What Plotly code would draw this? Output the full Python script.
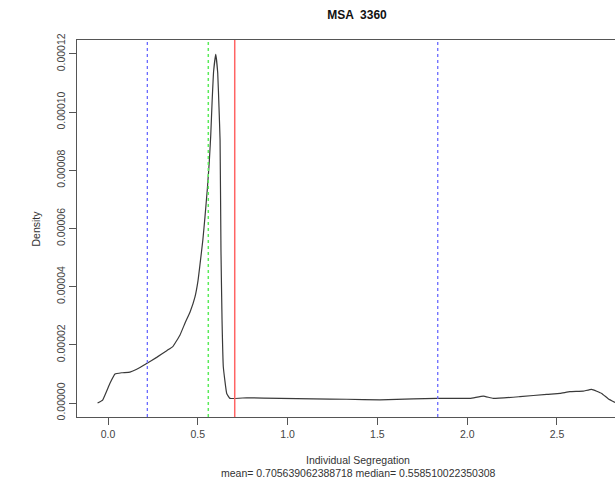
import plotly.graph_objects as go

# density curve
seg_x = [-0.058, -0.030, 0.011, 0.039, 0.076, 0.122, 0.160, 0.215, 0.271, 0.327, 0.362, 0.401,
         0.429, 0.457, 0.484, 0.501, 0.512, 0.528, 0.540, 0.553, 0.564, 0.572, 0.580, 0.588,
         0.600, 0.611, 0.618, 0.624, 0.629, 0.635, 0.642, 0.661, 0.679, 0.772, 0.958, 1.143,
         1.329, 1.514, 1.700, 1.830, 2.016, 2.090, 2.145, 2.294, 2.443, 2.517, 2.572, 2.646,
         2.693, 2.749, 2.785, 2.823]
density = [0.0, 1.0e-6, 6.8e-6, 9.96e-6, 1.04e-5, 1.065e-5, 1.16e-5, 1.36e-5, 1.57e-5, 1.80e-5,
           1.95e-5, 2.34e-5, 2.75e-5, 3.13e-5, 3.64e-5, 4.2e-5, 4.75e-5, 5.6e-5, 6.4e-5,
           7.35e-5, 8.3e-5, 9.2e-5, 1.04e-4, 1.14e-4, 1.199e-4, 1.134e-4, 1.018e-4, 9.04e-5,
           5.26e-5, 2.85e-5, 1.25e-5, 3.3e-6, 1.6e-6, 1.8e-6, 1.6e-6, 1.4e-6, 1.3e-6, 1.1e-6,
           1.4e-6, 1.6e-6, 1.6e-6, 2.4e-6, 1.6e-6, 2.2e-6, 3.0e-6, 3.3e-6, 3.9e-6, 4.1e-6,
           4.7e-6, 3.3e-6, 1.5e-6, 0.2e-6]

mean_val = 0.705639062388718
median_val = 0.558510022350308
bound_vals = [0.219, 1.836]

x_ticks = [0.0, 0.5, 1.0, 1.5, 2.0, 2.5]
x_tick_labels = ["0.0", "0.5", "1.0", "1.5", "2.0", "2.5"]
y_ticks = [0.0, 0.00002, 0.00004, 0.00006, 0.00008, 0.00010, 0.00012]
y_tick_labels = ["0.00000", "0.00002", "0.00004", "0.00006", "0.00008", "0.00010", "0.00012"]

title_text = "MSA  3360"
x_label = "Individual Segregation"
y_label = "Density"
sub_label = "mean= {} median= {}".format(mean_val, median_val)

FONT = "Liberation Sans, Arial, sans-serif"
AX = "#555555"

fig = go.Figure()
fig.add_trace(go.Scatter(x=seg_x, y=density, mode="lines",
                         line=dict(color="#3a3a3a", width=1.2, shape="spline", smoothing=0.3),
                         hoverinfo="skip", showlegend=False))

shapes = []
for b in bound_vals:
    shapes.append(dict(type="line", xref="x", yref="paper", x0=b, x1=b, y0=0, y1=1,
                       line=dict(color="rgb(105,105,255)", width=1.3, dash="dot")))
shapes.append(dict(type="line", xref="x", yref="paper", x0=median_val, x1=median_val, y0=0, y1=1,
                   line=dict(color="rgb(90,235,90)", width=1.5, dash="dot")))
shapes.append(dict(type="line", xref="x", yref="paper", x0=mean_val, x1=mean_val, y0=0, y1=1,
                   line=dict(color="rgb(255,100,100)", width=1.5)))

fig.update_layout(
    width=615, height=479,
    margin=dict(l=77, r=0, t=40, b=62),
    paper_bgcolor="white", plot_bgcolor="white",
    font=dict(family=FONT, size=10.5, color="#333333"),
    shapes=shapes,
    title=dict(text="<b>" + title_text + "</b>", x=357 / 615, xref="container", xanchor="center",
               y=1 - 15 / 479, yref="container", yanchor="middle",
               font=dict(family=FONT, size=12, color="#111111")),
    xaxis=dict(range=[-0.1726, 2.823], tickvals=x_ticks, ticktext=x_tick_labels,
               showgrid=False, zeroline=False, showline=True, mirror=True, linecolor=AX,
               linewidth=1, ticks="outside", ticklen=7, tickcolor=AX,
               tickfont=dict(size=10.5, color="#444444")),
    yaxis=dict(range=[-0.0000048, 0.0001248], tickvals=y_ticks, ticktext=y_tick_labels,
               showgrid=False, zeroline=False, showline=True, mirror=False, linecolor=AX,
               linewidth=1, ticks="outside", ticklen=7, tickcolor=AX, tickangle=-90,
               tickfont=dict(size=10.5, color="#444444")),
    annotations=[
        dict(text=x_label, xref="paper", yref="paper", x=(358 - 77) / (615 - 77), y=-(460 - 417) / 377,
             showarrow=False, xanchor="center", yanchor="middle", font=dict(size=10.5, color="#333333")),
        dict(text=sub_label, xref="paper", yref="paper", x=(358 - 77) / (615 - 77), y=-(473 - 417) / 377,
             showarrow=False, xanchor="center", yanchor="middle", font=dict(size=10.5, color="#333333")),
        dict(text=y_label, xref="paper", yref="paper", x=-(77 - 35) / (615 - 77), y=0.5,
             textangle=-90, showarrow=False, xanchor="center", yanchor="middle",
             font=dict(size=10.5, color="#333333")),
    ],
)

fig.write_html("out.html")
